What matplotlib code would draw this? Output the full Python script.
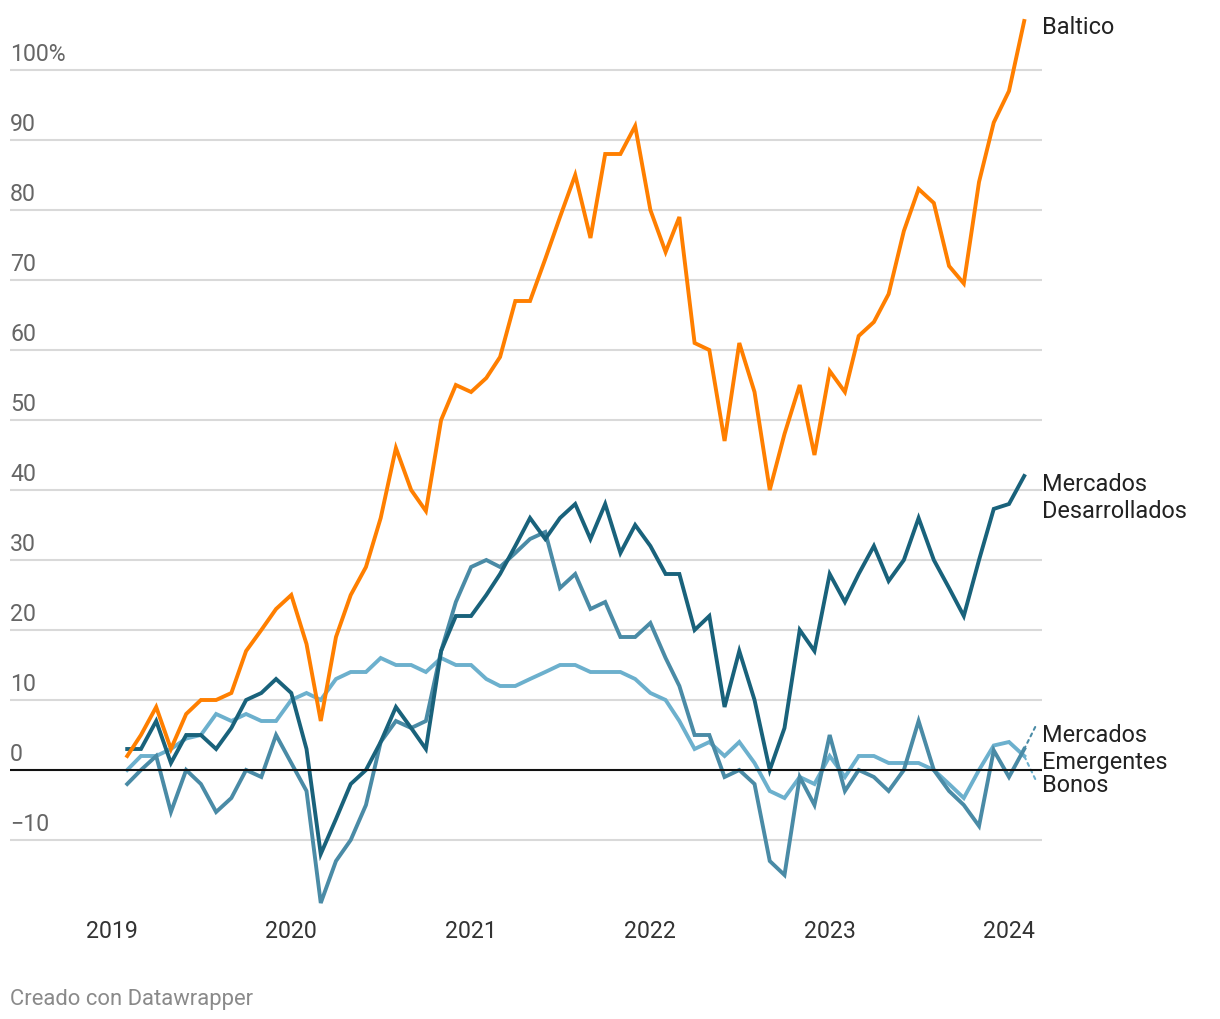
import matplotlib
matplotlib.use('agg')
import matplotlib.pyplot as plt
import matplotlib.dates as mdates
import matplotlib.transforms as mtransforms
import pandas as pd

plt.rcParams['font.family'] = ['Roboto', 'DejaVu Sans']

# monthly series, Feb 2019 .. Feb 2024
months = pd.date_range('2019-02-01', periods=61, freq='MS')

baltico = [2, 5, 9, 3, 8, 10, 10, 11, 17, 20, 23, 25, 18, 7, 19, 25, 29, 36,
           46, 40, 37, 50, 55, 54, 56, 59, 67, 67, 73, 79, 85, 76, 88, 88, 92,
           80, 74, 79, 61, 60, 47, 61, 54, 40, 48, 55, 45, 57, 54, 62, 64, 68,
           77, 83, 81, 72, 69.5, 84, 92.5, 97, 107]
desarrollados = [3, 3, 7, 1, 5, 5, 3, 6, 10, 11, 13, 11, 3, -12, -7, -2, 0, 4,
                 9, 6, 3, 17, 22, 22, 25, 28, 32, 36, 33, 36, 38, 33, 38, 31,
                 35, 32, 28, 28, 20, 22, 9, 17, 10, 0, 6, 20, 17, 28, 24, 28,
                 32, 27, 30, 36, 30, 26, 22, 30, 37.3, 38, 42]
emergentes = [-2, 0, 2, -6, 0, -2, -6, -4, 0, -1, 5, 1, -3, -19, -13, -10, -5,
              4, 7, 6, 7, 17, 24, 29, 30, 29, 31, 33, 34, 26, 28, 23, 24, 19,
              19, 21, 16, 12, 5, 5, -1, 0, -2, -13, -15, -1, -5, 5, -3, 0, -1,
              -3, 0, 7, 0, -3, -5, -8, 2.8, -1, 3]
bonos = [0, 2, 2, 3, 4.5, 5, 8, 7, 8, 7, 7, 10, 11, 10, 13, 14, 14, 16, 15, 15,
         14, 16, 15, 15, 13, 12, 12, 13, 14, 15, 15, 14, 14, 14, 13, 11, 10, 7,
         3, 4, 2, 4, 1, -3, -4, -1, -2, 2, -1, 2, 2, 1, 1, 1, 0, -2, -4, 0,
         3.5, 4, 2]

y_ticks = [-10, 0, 10, 20, 30, 40, 50, 60, 70, 80, 90, 100]
y_labels = ['\u221210', '0', '10', '20', '30', '40', '50', '60', '70', '80',
            '90', '100%']
years = ['2019', '2020', '2021', '2022', '2023', '2024']

C_BALT = '#ff7f00'
C_DES = '#19627b'
C_EME = '#4a8ba6'
C_BON = '#6cb0cd'

fig = plt.figure(figsize=(12.2, 10.2), dpi=100)
ax = fig.add_axes([10 / 1220, 109 / 1020, 1032 / 1220, 910 / 1020])

x = mdates.date2num(months)
x0 = mdates.date2num(pd.Timestamp('2019-01-01'))
ax.set_xlim(x0 - 207.6, x0 + 1893.2)
ax.set_ylim(-20, 110)
ax.axis('off')

for v, lab in zip(y_ticks, y_labels):
    if v == 0:
        ax.axhline(0, color='#111111', lw=1.5, zorder=6)
    else:
        ax.axhline(v, color='#d9d9d9', lw=1.5, zorder=0)
    ax.annotate(lab, xy=(0, v), xycoords=('axes fraction', 'data'),
                xytext=(0, 10), textcoords='offset pixels',
                ha='left', va='baseline', fontsize=16.7, color='#666666')

lw = 2.8
ax.plot(x, bonos, color=C_BON, lw=lw, zorder=2, clip_on=False,
        solid_joinstyle='miter')
ax.plot(x, emergentes, color=C_EME, lw=lw, zorder=3, clip_on=False,
        solid_joinstyle='miter')
ax.plot(x, desarrollados, color=C_DES, lw=lw, zorder=4, clip_on=False,
        solid_joinstyle='miter')
ax.plot(x, baltico, color=C_BALT, lw=lw, zorder=5, clip_on=False,
        solid_joinstyle='miter')

# year labels under the plot
trans = mtransforms.blended_transform_factory(ax.transData, fig.transFigure)
for yr in years:
    xd = mdates.date2num(pd.Timestamp(yr + '-01-01'))
    ax.text(xd, (1020 - 938) / 1020, yr, transform=trans, ha='center',
            va='baseline', fontsize=16.7, color='#333333')

# line labels at the right end
xe = x[-1]
def line_label(text, yv, dy):
    ax.annotate(text, xy=(xe, yv), xytext=(18, dy), textcoords='offset pixels',
                ha='left', va='baseline', fontsize=16.9, color='#222222',
                annotation_clip=False)

line_label('Baltico', baltico[-1], -12)
line_label('Mercados', desarrollados[-1], -14)
line_label('Desarrollados', desarrollados[-1], -41)
line_label('Mercados', emergentes[-1], 8)
line_label('Emergentes', emergentes[-1], -19)
line_label('Bonos', bonos[-1], -35)

# dotted leader lines for the crowded labels
ax.annotate('', xy=(xe, emergentes[-1]), xytext=(11, 22),
            textcoords='offset pixels', annotation_clip=False,
            arrowprops=dict(arrowstyle='-', color=C_EME, lw=1.5,
                            linestyle=(0, (1.5, 2)), shrinkA=0, shrinkB=0))
ax.annotate('', xy=(xe, bonos[-1]), xytext=(11, -23),
            textcoords='offset pixels', annotation_clip=False,
            arrowprops=dict(arrowstyle='-', color=C_BON, lw=1.5,
                            linestyle=(0, (1.5, 2)), shrinkA=0, shrinkB=0))

fig.text(10 / 1220, (1020 - 1005) / 1020, 'Creado con Datawrapper',
         ha='left', va='baseline', fontsize=15.8, color='#8a8a8a')

plt.savefig('out.png', dpi=100)
plt.close(fig)
